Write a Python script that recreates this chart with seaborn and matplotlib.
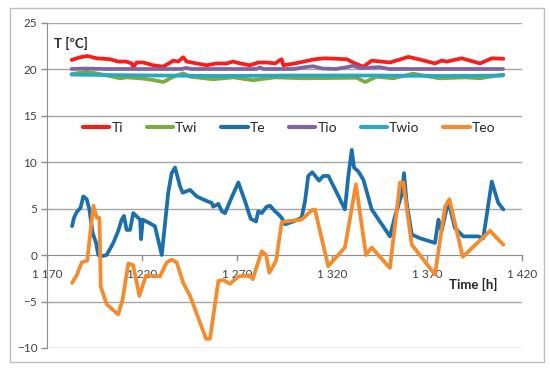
import numpy as np
import pandas as pd
import matplotlib
matplotlib.use('Agg')
import matplotlib.pyplot as plt
from matplotlib.lines import Line2D
from matplotlib.patches import Rectangle
from matplotlib.ticker import FuncFormatter
import seaborn as sns

# --- data ---
series_names = ['Ti', 'Twi', 'Te', 'Tio', 'Twio', 'Teo']
series_colors = ['#ff1a1a', '#7aab3e', '#1c6fad', '#8064a2', '#2aa8c2', '#f58b2d']

ti_time = [1183, 1187.4, 1191.2, 1196.2, 1203.2, 1207.5, 1211.6, 1214.6, 1215.4, 1217.2,
           1220.7, 1225.9, 1231.2, 1236.5, 1239.1, 1241.7, 1243.5, 1248.8, 1254, 1259.3,
           1264.6, 1268, 1271.6, 1276.8, 1281.2, 1285.6, 1290, 1293.5, 1294.4, 1300.5,
           1307.5, 1311, 1316.3, 1327.7, 1332.1, 1336.5, 1340.9, 1350.5, 1360.2, 1367.2,
           1374.2, 1377.7, 1380.4, 1388.3, 1397.9, 1404.1, 1410.2]
ti_vals = [20.97, 21.26, 21.4, 21.15, 21.05, 20.8, 20.8, 20.6, 20.2, 20.7,
           20.7, 20.4, 20.25, 20.9, 20.8, 21.26, 20.8, 20.6, 20.4, 20.6,
           20.6, 20.8, 20.6, 20.4, 20.7, 20.7, 20.6, 21.05, 20.4, 20.6,
           20.9, 21.05, 21.15, 21.05, 20.6, 20.25, 20.9, 20.7, 21.3, 20.97,
           20.6, 20.9, 20.8, 21.15, 20.6, 21.15, 21.1]

twi_time = [1183, 1190.9, 1197.9, 1208.4, 1212, 1219, 1225, 1231.2, 1236.5, 1241.7,
            1245.3, 1257.5, 1268, 1278.5, 1290, 1304.9, 1333, 1337.4, 1343.5, 1352.3,
            1362.8, 1371.6, 1376.8, 1390, 1397.9, 1410.2]
twi_vals = [19.46, 19.7, 19.46, 19.0, 19.1, 19.0, 18.85, 18.6, 19.17, 19.53,
            19.17, 18.9, 19.1, 18.8, 19.1, 19.0, 19.06, 18.6, 19.17, 19.0,
            19.5, 19.17, 19.0, 19.1, 19.0, 19.4]

te_time = [1183.2, 1184.2, 1185.6, 1187.7, 1189.1, 1190.9, 1192.3, 1194, 1195.8, 1197,
           1199.6, 1201.4, 1204.9, 1207.5, 1209.3, 1210.5, 1211.9, 1213.7, 1215.4, 1218,
           1219, 1219.5, 1220.4, 1223.3, 1226.8, 1230.4, 1233.8, 1235.6, 1237.4, 1240,
           1241.4, 1245.3, 1248.8, 1254.1, 1256.7, 1257.5, 1260.2, 1262, 1263.7, 1267.2,
           1270.7, 1274.2, 1277.2, 1280, 1281.2, 1283, 1285.6, 1287.4, 1290, 1291.7,
           1293.5, 1295.3, 1299.6, 1304, 1305.8, 1307.5, 1309.6, 1313.2, 1315.4, 1318.1,
           1322.5, 1326.8, 1328.6, 1330.4, 1331.6, 1333.8, 1336.5, 1340.9, 1350.5, 1353.2,
           1356.7, 1357.9, 1359.3, 1362, 1366.3, 1374.2, 1376, 1377.7, 1381.2, 1384.7,
           1389.1, 1397, 1399.6, 1404.1, 1407.5, 1410.2]
te_vals = [3.1, 4.0, 4.6, 5.1, 6.3, 6.0, 4.9, 2.4, 1.3, 0.0,
           -0.1, 0.0, 1.3, 2.6, 3.8, 4.2, 2.7, 2.7, 4.5, 4.0,
           3.8, 1.7, 3.8, 3.5, 3.1, 0.0, 6.7, 8.8, 9.4, 7.4,
           6.7, 7.0, 6.3, 5.8, 5.6, 5.2, 5.5, 4.7, 4.5, 6.2,
           7.8, 5.8, 3.9, 3.6, 4.7, 4.5, 5.2, 5.3, 4.7, 4.4,
           4.0, 3.3, 3.6, 4.0, 5.8, 8.5, 8.9, 8.0, 8.5, 8.5,
           6.7, 4.9, 8.5, 11.3, 9.4, 9.0, 8.1, 4.9, 2.0, 4.2,
           6.5, 8.8, 5.6, 2.2, 1.8, 1.3, 3.8, 2.6, 5.8, 2.9,
           2.0, 2.0, 1.8, 7.9, 5.6, 4.9]

tio_time = [1183, 1190, 1200, 1241, 1243, 1246, 1280, 1282, 1284, 1300, 1306, 1310,
            1315, 1322, 1328, 1331, 1335, 1345, 1350, 1380, 1410]
tio_vals = [20.0, 20.05, 20.0, 20.0, 20.12, 20.0, 20.0, 20.15, 20.0, 20.0, 20.2, 20.3,
            20.05, 20.0, 20.2, 20.35, 20.1, 20.2, 20.0, 20.0, 20.0]

twio_time = [1183, 1200, 1230, 1260, 1300, 1340, 1380, 1410]
twio_vals = [19.4, 19.35, 19.3, 19.25, 19.3, 19.3, 19.25, 19.3]

teo_time = [1183.2, 1185.6, 1188.3, 1191.2, 1194.4, 1196.2, 1197.6, 1198.3, 1201.4, 1207.5,
            1209.8, 1212.8, 1215.4, 1218.6, 1222.1, 1229.5, 1233, 1235.6, 1238.3, 1241.7,
            1245.3, 1253.7, 1255.8, 1260.2, 1262.8, 1266.3, 1270.7, 1276.8, 1278.3, 1283,
            1285.3, 1287, 1290.6, 1293.5, 1295.3, 1304, 1309.3, 1311, 1318, 1326.8,
            1332.6, 1337.9, 1340.9, 1350.5, 1355.8, 1357.5, 1362, 1374.2, 1379.5, 1381.8,
            1388.8, 1403.2, 1410.2]
teo_vals = [-3.0, -2.2, -0.8, -0.6, 5.3, 4.0, 4.0, -3.4, -5.3, -6.4,
            -4.8, -0.9, -1.1, -4.4, -2.2, -2.3, -0.8, -0.5, -0.8, -3.0,
            -4.4, -9.0, -9.0, -2.8, -2.7, -3.1, -2.3, -2.2, -2.6, 0.4,
            0.0, -1.9, -0.6, 3.5, 3.6, 3.8, 4.8, 4.9, -1.2, 0.8,
            7.6, 0.0, 0.8, -1.4, 7.8, 7.8, 1.1, -2.1, 5.2, 6.0,
            -0.2, 2.6, 1.1]

all_times = [ti_time, twi_time, te_time, tio_time, twio_time, teo_time]
all_vals = [ti_vals, twi_vals, te_vals, tio_vals, twio_vals, teo_vals]


def main():
    frames = []
    for name, t, v in zip(series_names, all_times, all_vals):
        frames.append(pd.DataFrame({'time': t, 'T': v, 'series': name}))
    df = pd.concat(frames, ignore_index=True)

    sns.set_style('white')
    plt.rcParams['font.family'] = ['Lato', 'DejaVu Sans']

    fig = plt.figure(figsize=(5.5, 3.71), dpi=100)
    ax = fig.add_axes([47 / 550, 1 - 348 / 371, 475 / 550, 325.5 / 371])

    # gridlines first
    for yv in range(-10, 26, 5):
        if yv != 0:
            ax.axhline(yv, color='#a6a6a6', lw=1.0, zorder=0)

    palette = dict(zip(series_names, series_colors))
    sns.lineplot(data=df, x='time', y='T', hue='series', hue_order=series_names,
                 palette=palette, estimator=None, sort=False, lw=2.7,
                 legend=False, ax=ax, zorder=3)

    ax.set_xlim(1170, 1420)
    ax.set_ylim(-10, 25)
    ax.set_xticks(np.arange(1170, 1421, 50))
    ax.set_yticks(np.arange(-10, 26, 5))
    ax.xaxis.set_major_formatter(FuncFormatter(lambda v, p: f'{int(v):,}'.replace(',', ' ')))
    ax.set_xlabel('')
    ax.set_ylabel('')

    for s in ['top', 'right']:
        ax.spines[s].set_visible(False)
    ax.spines['bottom'].set_position(('data', 0))
    ax.spines['bottom'].set_color('#8c8c8c')
    ax.spines['left'].set_color('#8c8c8c')
    ax.spines['bottom'].set_zorder(1)
    ax.tick_params(axis='both', direction='out', length=4, width=1, color='#8c8c8c',
                   labelsize=8.5, labelcolor='#404040', pad=3, bottom=True, left=True)
    ax.tick_params(axis='x', pad=6)

    ax.text(1173.5, 22.7, 'T [ºC]', fontsize=9.5, fontweight='bold', ha='left', va='center')
    ax.text(1394.5, -3.2, 'Time [h]', fontsize=9.5, fontweight='bold', ha='center', va='center')

    handles = [Line2D([0], [0], color=c, lw=3) for c in series_colors]
    ax.legend(handles, series_names, ncol=6, loc='center', bbox_to_anchor=(0.51, 0.677),
              frameon=False, fontsize=10, handlelength=1.9, handletextpad=0.15,
              columnspacing=1.7)

    fig.patches.append(Rectangle((10 / 550, 9 / 371), 534 / 550, 354 / 371,
                                 transform=fig.transFigure, fill=False,
                                 edgecolor='#bfbfbf', lw=1))

    fig.savefig('out.png', dpi=100)
    plt.close(fig)


if __name__ == '__main__':
    main()
